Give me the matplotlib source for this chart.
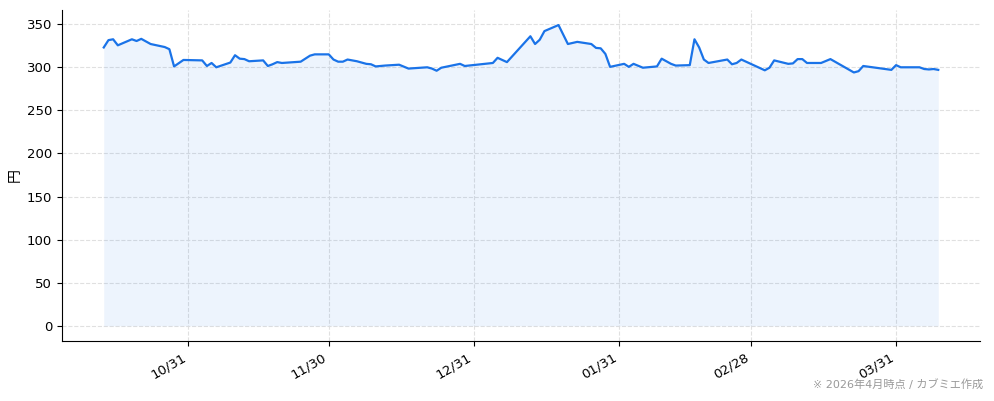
import pandas as pd
import matplotlib
matplotlib.use("Agg")
import matplotlib.pyplot as plt
import matplotlib.dates as mdates

plt.rcParams['font.family'] = ['DejaVu Sans', 'Noto Sans CJK JP']

# price points (date, yen)
dates = [
    "2025-10-13", "2025-10-14", "2025-10-15", "2025-10-16", "2025-10-19", "2025-10-20",
    "2025-10-21", "2025-10-23", "2025-10-26", "2025-10-27", "2025-10-28", "2025-10-30",
    "2025-11-03", "2025-11-04", "2025-11-05", "2025-11-06", "2025-11-09", "2025-11-10",
    "2025-11-11", "2025-11-12", "2025-11-13", "2025-11-16", "2025-11-17", "2025-11-18",
    "2025-11-19", "2025-11-20", "2025-11-24", "2025-11-26", "2025-11-27", "2025-11-30",
    "2025-12-01", "2025-12-02", "2025-12-03", "2025-12-04", "2025-12-06", "2025-12-08",
    "2025-12-09", "2025-12-10", "2025-12-12", "2025-12-15", "2025-12-17", "2025-12-21",
    "2025-12-22", "2025-12-23", "2025-12-24", "2025-12-28", "2025-12-29", "2026-01-04",
    "2026-01-05", "2026-01-07", "2026-01-12", "2026-01-13", "2026-01-14", "2026-01-15",
    "2026-01-18", "2026-01-20", "2026-01-22", "2026-01-25", "2026-01-26", "2026-01-27",
    "2026-01-28", "2026-01-29", "2026-02-01", "2026-02-02", "2026-02-03", "2026-02-05",
    "2026-02-08", "2026-02-09", "2026-02-11", "2026-02-12", "2026-02-15", "2026-02-16",
    "2026-02-17", "2026-02-18", "2026-02-19", "2026-02-23", "2026-02-24", "2026-02-25",
    "2026-02-26", "2026-03-03", "2026-03-04", "2026-03-05", "2026-03-08", "2026-03-09",
    "2026-03-10", "2026-03-11", "2026-03-12", "2026-03-15", "2026-03-17", "2026-03-22",
    "2026-03-23", "2026-03-24", "2026-03-30", "2026-03-31", "2026-04-01", "2026-04-05",
    "2026-04-06", "2026-04-07", "2026-04-08", "2026-04-09",
]
prices = [
    323, 331.5, 332.5, 325.5, 332.5, 330.5,
    333, 327, 323.5, 321, 301, 308.5,
    308, 301.5, 305, 300, 305.5, 314,
    310, 309.5, 307, 308, 301.5, 303.5,
    306, 305, 306.5, 313.5, 315, 315,
    309, 306.5, 306.5, 309, 307, 304,
    303.5, 301, 302, 303, 298.5, 300,
    298.5, 296, 299.5, 304, 301.5, 305,
    311, 306, 336, 327, 332, 342,
    349, 327, 329.5, 327, 322.5, 322,
    315.5, 300.5, 304, 300.5, 304, 299.5,
    301, 310, 304, 302, 302.5, 332.5,
    323, 309, 305, 309, 303.5, 305,
    309, 296.5, 299.5, 308, 304, 304.5,
    309.5, 309.5, 305, 305, 309.5, 294,
    295.5, 301.5, 297, 302.5, 300, 300,
    298, 297.5, 298, 297,
]
tick_dates = ["2025-10-31", "2025-11-30", "2025-12-31", "2026-01-31", "2026-02-28", "2026-03-31"]
y_ticks = [0, 50, 100, 150, 200, 250, 300, 350]

x = pd.to_datetime(dates)
line_color = "#1a73e8"

fig = plt.figure(figsize=(9.94, 4.01), dpi=100)
ax = fig.add_axes([0.0624, 0.150, 0.9235, 0.825])

ax.fill_between(x, prices, 0, color=line_color, alpha=0.08, linewidth=0)
ax.plot(x, prices, color=line_color, linewidth=1.6)

ax.set_xticks(pd.to_datetime(tick_dates))
ax.xaxis.set_major_formatter(mdates.DateFormatter("%m/%d"))
ax.set_yticks(y_ticks)
plt.setp(ax.get_xticklabels(), rotation=30, ha="right")
ax.tick_params(labelsize=9.5)

ax.grid(True, linestyle="--", color="#e0e0e0", linewidth=0.8)
ax.set_axisbelow(True)
for side in ["top", "right"]:
    ax.spines[side].set_visible(False)

ax.set_ylabel("円", fontsize=10)

fig.text(0.989, 0.028, "※ 2026年4月時点 / カブミエ作成", ha="right", va="bottom",
         fontsize=8, color="#999999")

fig.savefig("out.png", dpi=100)
